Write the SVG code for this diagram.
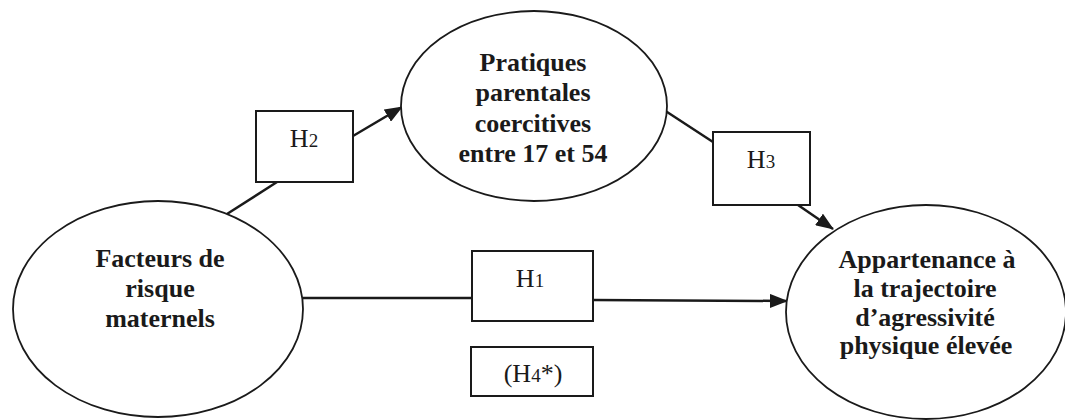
<svg xmlns="http://www.w3.org/2000/svg" width="1065" height="420" viewBox="0 0 1065 420">
<style>
.node{fill:#fff;stroke:#1a1a1a;stroke-width:1.8}
.box{fill:#fff;stroke:#1a1a1a;stroke-width:2}
.lbl{font-family:"Liberation Serif","Times New Roman",serif;font-weight:bold;font-size:26px;fill:#1a1a1a;text-anchor:middle}
.h{font-family:"Liberation Serif","Times New Roman",serif;font-size:26px;fill:#1a1a1a;text-anchor:middle}
.sub{font-size:19px}
.edge{fill:none;stroke:#1a1a1a;stroke-width:2.5}
</style>
<defs>
<marker id="arr" markerUnits="userSpaceOnUse" markerWidth="18" markerHeight="14" refX="17" refY="7" orient="auto">
<path d="M0,0 L18,7 L0,14 Z" fill="#1a1a1a"/>
</marker>
</defs>
<rect width="1065" height="420" fill="#fff"/>
<g id="connectors">
<line class="edge" x1="227" y1="214" x2="277" y2="182"/>
<line class="edge" x1="353" y1="136" x2="402" y2="107" marker-end="url(#arr)"/>
<line class="edge" x1="664" y1="110" x2="713" y2="142"/>
<line class="edge" x1="798" y1="205" x2="833" y2="229" marker-end="url(#arr)"/>
<line class="edge" x1="303" y1="298" x2="472" y2="298"/>
<line class="edge" x1="593" y1="300" x2="787" y2="301" marker-end="url(#arr)"/>
</g>
<g id="facteurs">
<ellipse class="node" cx="158" cy="309" rx="145" ry="108"/>
<text class="lbl" x="160" y="267">Facteurs de</text>
<text class="lbl" x="160" y="297">risque</text>
<text class="lbl" x="160" y="327">maternels</text>
</g>
<g id="pratiques">
<ellipse class="node" cx="534" cy="106" rx="133" ry="95"/>
<text class="lbl" x="533" y="71">Pratiques</text>
<text class="lbl" x="533" y="101">parentales</text>
<text class="lbl" x="533" y="132">coercitives</text>
<text class="lbl" x="533" y="162">entre 17 et 54</text>
</g>
<g id="appartenance">
<ellipse class="node" cx="926" cy="312" rx="140" ry="107"/>
<text class="lbl" x="927" y="268">Appartenance à</text>
<text class="lbl" x="925" y="297">la trajectoire</text>
<text class="lbl" x="925" y="326">d’agressivité</text>
<text class="lbl" x="926" y="354">physique élevée</text>
</g>
<g id="h2">
<rect class="box" x="256" y="111" width="97" height="71"/>
<text class="h" x="304" y="147">H<tspan class="sub">2</tspan></text>
</g>
<g id="h3">
<rect class="box" x="713" y="132" width="97" height="73"/>
<text class="h" x="761" y="168">H<tspan class="sub">3</tspan></text>
</g>
<g id="h1">
<rect class="box" x="472" y="251" width="121" height="70"/>
<text class="h" x="530" y="287">H<tspan class="sub">1</tspan></text>
</g>
<g id="h4">
<rect class="box" x="471" y="347" width="122" height="49"/>
<text class="h" x="533" y="382">(H<tspan class="sub">4</tspan>*)</text>
</g>
</svg>
